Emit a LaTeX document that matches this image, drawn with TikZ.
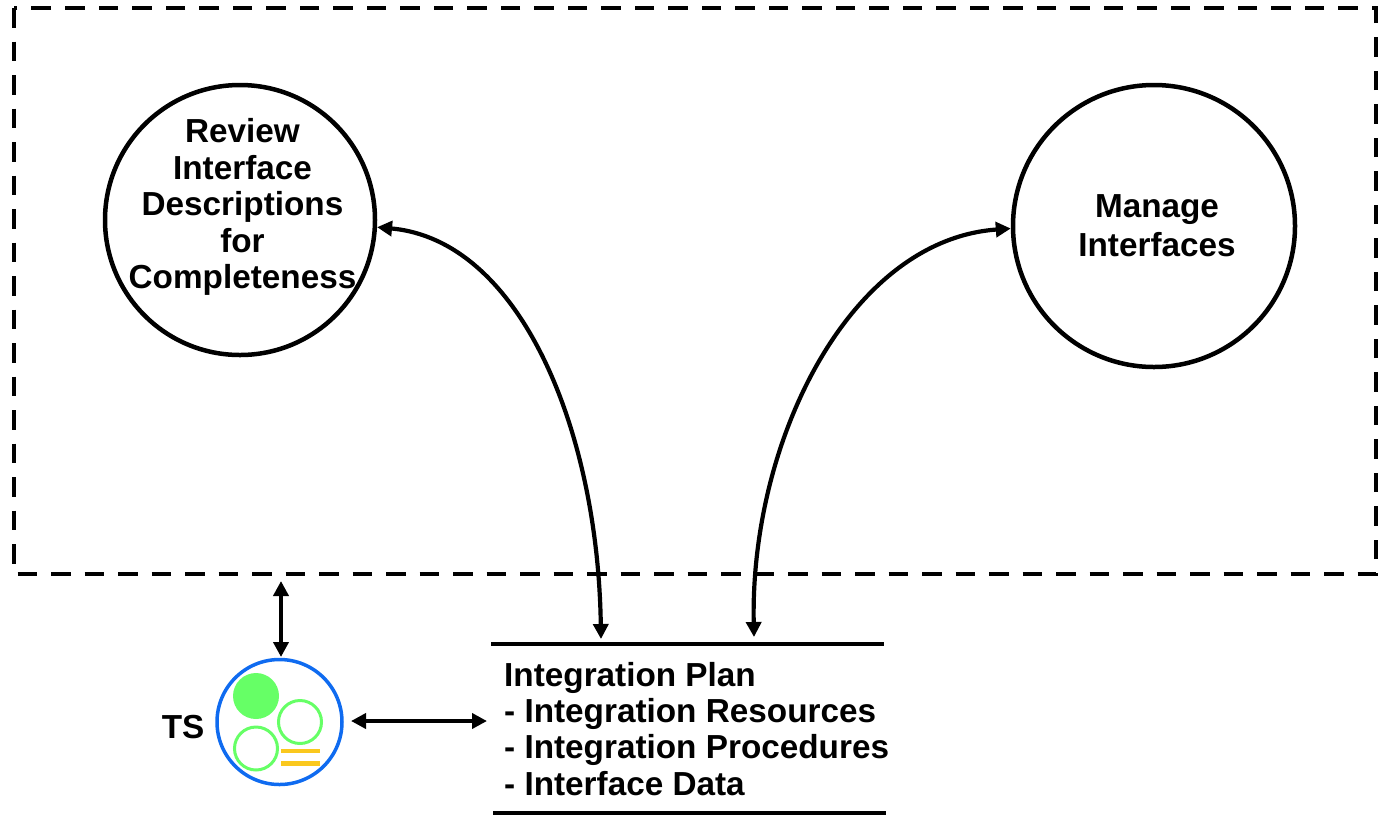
\documentclass[tikz,border=0pt]{standalone}
\usepackage{fontspec}
\setmainfont{Liberation Sans}
\usetikzlibrary{positioning}
\usetikzlibrary{arrows.meta}
\definecolor{tsblue}{HTML}{0F6BF0}
\definecolor{tsgreen}{HTML}{66FF66}
\definecolor{tsyellow}{HTML}{FAC81E}
\tikzset{
  proc/.style={circle, draw, line width=4.5pt, inner sep=0pt},
  link/.style={line width=4.2pt, {Stealth[length=15pt,width=15pt,inset=0pt]}-{Stealth[length=15pt,width=15pt,inset=0pt]}},
  store/.style={line width=4pt},
  txt/.style={inner sep=0pt, font=\fontsize{33.3}{36.5}\selectfont\bfseries},
}
\begin{document}
\begin{tikzpicture}[x=1pt, y=-1pt]
  \useasboundingbox (0,0) rectangle (1378,815);
  \draw[line width=4pt, dash pattern=on 19.5pt off 14pt] (14,8) rectangle (1376,574);

  \node[proc, minimum size=270pt](Review) at (240,220) {};
  \node[txt, align=center](ReviewText) at (242.5,207) {Review\\Interface\\Descriptions\\for\\Completeness};
  \node[proc, minimum size=282pt](Manage) at (1154,226) {};
  \node[txt, align=center](ManageText) at (1157,226) {Manage\\[2.5pt]Interfaces};

  \coordinate(PlanL) at (491,644);
  \coordinate(PlanR) at (884,644);
  \coordinate(PlanBL) at (493,813);
  \coordinate(PlanBR) at (886,813);
  \draw[store](PlanL) -- (PlanR);
  \draw[store](PlanBL) -- (PlanBR);
  \node[txt, anchor=base west](Plan) at (504,686) {Integration Plan};
  \node[txt, anchor=base west](Res) at (504,722) {- Integration Resources};
  \node[txt, anchor=base west](Proc) at (504,758) {- Integration Procedures};
  \node[txt, anchor=base west](Data) at (504,795) {- Interface Data};

  \coordinate(PlanA) at (601,639);
  \coordinate(PlanB) at (754,637);
  \draw[link](PlanA) .. controls (598,430) and (520,240) .. (Review.-3.4);
  \draw[link](PlanB) .. controls (750,440) and (850,240) .. (Manage.181);

  \node[circle, draw=tsblue, line width=3.5pt, minimum size=125pt, inner sep=0pt](TS) at (279.5,722) {};
  \node[circle, fill=tsgreen, minimum size=46pt, inner sep=0pt](tsa) at (256,696) {};
  \node[circle, draw=tsgreen, line width=3pt, minimum size=43pt, inner sep=0pt](tsb) at (300,722) {};
  \node[circle, draw=tsgreen, line width=3pt, minimum size=43pt, inner sep=0pt](tsc) at (256,748.5) {};
  \draw[tsyellow, line width=4.7pt] (281,751) -- (320,751);
  \draw[tsyellow, line width=4.7pt] (281,763.5) -- (320,763.5);
  \node[txt, anchor=east](TSlabel) at (204.5,727) {TS};

  \coordinate(BoxBot) at (281,581);
  \coordinate(TSTop) at (281,657);
  \draw[link](BoxBot) -- (TSTop);
  \coordinate(TSRight) at (351,721);
  \coordinate(PlanC) at (487,721);
  \draw[link](TSRight) -- (PlanC);
\end{tikzpicture}
\end{document}
